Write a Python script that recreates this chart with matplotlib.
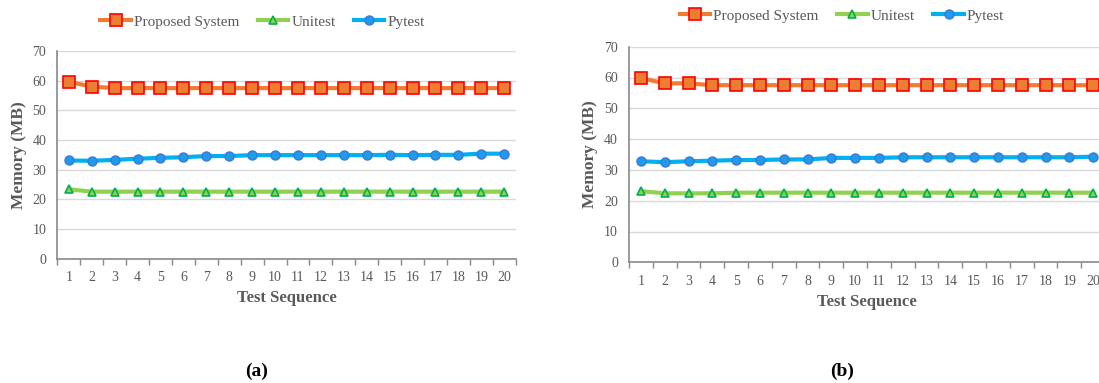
import matplotlib
matplotlib.use("Agg")
import matplotlib.pyplot as plt
from matplotlib.ticker import FixedLocator

plt.rcParams['font.family'] = ['Liberation Serif', 'DejaVu Serif']

seq = list(range(1, 21))

# Panel (a)
a_proposed = [59.6, 58.0] + [57.5] * 18
a_unitest = [23.4] + [22.6] * 19
a_pytest = [33.1, 33.0, 33.3, 33.7, 34.0, 34.2, 34.6, 34.6, 34.9, 34.9,
            34.9, 34.9, 34.9, 34.9, 35.0, 34.9, 35.0, 35.0, 35.4, 35.4]

# Panel (b)
b_proposed = [59.8, 58.1, 58.1] + [57.5] * 17
b_unitest = [23.1, 22.4, 22.4, 22.4] + [22.6] * 16
b_pytest = [32.8, 32.5, 32.8, 33.0, 33.2, 33.2, 33.4, 33.4, 33.9, 33.9,
            33.9, 34.1, 34.1, 34.1, 34.1, 34.1, 34.1, 34.1, 34.1, 34.3]

series_names = ["Proposed System", "Unitest", "Pytest"]
yticks = [0, 10, 20, 30, 40, 50, 60, 70]

W, H = 1099, 383
fig = plt.figure(figsize=(W / 100, H / 100), dpi=100)

TXT = '#595959'
AXC = '#898989'


def px_axes(x0, x1, ytop, ybot):
    return [x0 / W, 1 - ybot / H, (x1 - x0) / W, (ybot - ytop) / H]


def draw(ax, prop, uni, pyt, leg_xy, tick_pad):
    ax.plot(seq, prop, color='#ED7D31', lw=3, marker='s', ms=8,
            mfc='#ED7D31', mec='#FF0000', mew=1.2, label=series_names[0], zorder=4)
    ax.plot(seq, uni, color='#92D050', lw=3, marker='^', ms=6,
            mfc='#92D050', mec='#00B050', mew=1.2, label=series_names[1], zorder=3)
    ax.plot(seq, pyt, color='#00B0F0', lw=3, marker='o', ms=6.5,
            mfc='#1E9BEA', mec='#3C78D8', mew=1.0, label=series_names[2], zorder=3)
    ax.set_xlim(0.5, 20.5)
    ax.set_ylim(0, 70)
    ax.set_yticks(yticks)
    ax.set_xticks(seq)
    ax.xaxis.set_minor_locator(FixedLocator([i + 0.5 for i in range(0, 21)]))
    ax.tick_params(axis='x', which='major', length=0, pad=tick_pad,
                   labelsize=10, labelcolor=TXT)
    ax.tick_params(axis='x', which='minor', length=4, width=1, color=AXC,
                   direction='out')
    ax.tick_params(axis='y', length=0, pad=8, labelsize=10, labelcolor=TXT)
    ax.grid(axis='y', color='#D9D9D9', lw=1)
    ax.set_axisbelow(True)
    for s in ['top', 'right']:
        ax.spines[s].set_visible(False)
    for s in ['left', 'bottom']:
        ax.spines[s].set_color(AXC)
        ax.spines[s].set_linewidth(1.2)
    ax.set_xlabel("Test Sequence", fontsize=12, fontweight='bold', color=TXT,
                  labelpad=4.5)
    ax.set_ylabel("Memory (MB)", fontsize=12.5, fontweight='bold', color=TXT,
                  labelpad=4)
    leg = ax.legend(loc='center', bbox_to_anchor=leg_xy, ncol=3, frameon=False,
                    fontsize=11, handlelength=2.0, handletextpad=0.2,
                    columnspacing=1.2, borderpad=0)
    for t in leg.get_texts():
        t.set_color(TXT)


ax1 = fig.add_axes(px_axes(57.3, 515.7, 51, 258.7))
draw(ax1, a_proposed, a_unitest, a_pytest, (0.4476, 1.1406), 9)

ax2 = fig.add_axes(px_axes(629, 1105, 46.7, 262.3))
draw(ax2, b_proposed, b_unitest, b_pytest, (0.4475, 1.1433), 9)

fig.text(256.7 / W, 1 - 371.5 / H, "(a)", fontsize=14, fontweight='bold',
         ha='center', va='center', color='black')
fig.text(841.7 / W, 1 - 371.5 / H, "(b)", fontsize=14, fontweight='bold',
         ha='center', va='center', color='black')

fig.savefig("out.png", dpi=100)
